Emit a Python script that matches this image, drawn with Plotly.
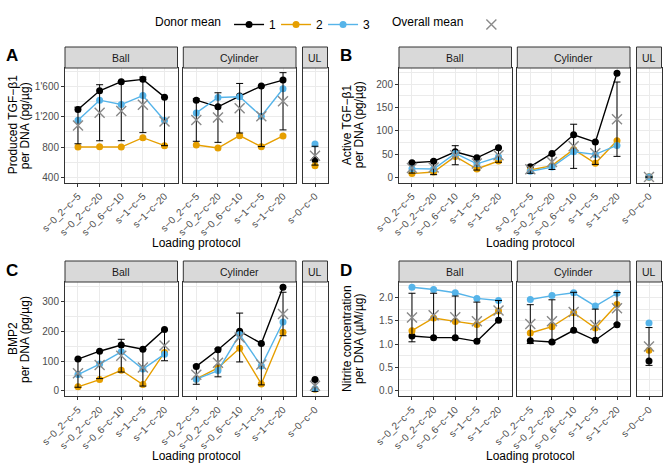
import plotly.graph_objects as go

# ---------------- data ----------------
protocols = ["s−0_2−c−5", "s−0_2−c−20", "s−0_6−c−10", "s−1−c−5", "s−1−c−20"]
ul_protocols = ["s−0−c−0"]
facets = ["Ball", "Cylinder", "UL"]
donors = ["1", "2", "3"]

# each list: Ball (5 protocols), Cylinder (5 protocols), UL (1)
# A: Produced TGF-beta1 per DNA (pg/ug)
a_donor1 = [1298, 1547, 1667, 1698, 1462, 1422, 1333, 1476, 1609, 1689, 631]
a_donor2 = [800, 804, 800, 924, 818, 827, 787, 951, 804, 947, 551]
a_donor3 = [1156, 1422, 1364, 1484, 1151, 1253, 1458, 1467, 1209, 1573, 840]
a_mean = [1086, 1255, 1277, 1360, 1140, 1158, 1191, 1315, 1207, 1407, 685]
a_err = [243, 372, 393, 369, 322, 282, 329, 329, 402, 380, 125]

# B: Active TGF-beta1 per DNA (pg/ug)
b_donor1 = [31.4, 34.3, 55, 42, 63.6, 22.9, 51.4, 91.4, 75.7, 224, 0.5]
b_donor2 = [7.9, 11.4, 45, 17.9, 35, 15.7, 25, 60, 30, 78.6, 0.5]
b_donor3 = [18.6, 17.9, 51.4, 29, 43.6, 12.9, 22, 55, 49.3, 68.6, 0.5]
b_mean = [20, 21.2, 47.5, 29.6, 47.4, 17.2, 32.8, 66.7, 51.7, 125, 0.5]
b_err = [11, 15.5, 20.5, 14, 15, 8.5, 16, 47.5, 24, 80, 0]

# C: BMP2 per DNA (pg/ug)
c_donor1 = [106.7, 133, 154, 140, 205.6, 82, 138, 200, 159, 348, 38]
c_donor2 = [13.3, 37.8, 69, 21, 129, 40, 77, 143, 23, 197, 5]
c_donor3 = [54.4, 90, 131, 73, 123, 39, 68, 189, 83, 231, 7]
c_mean = [59, 87, 118, 78, 152, 54, 94, 179, 88, 258, 17]
c_err = [47, 46, 55, 62, 51, 32, 47, 82, 68, 73, 19]

# D: Nitrite concentration per DNA (uM/ug)
d_donor1 = [1.174, 1.139, 1.139, 1.06, 1.509, 1.075, 1.046, 1.295, 1.082, 1.416, 0.64]
d_donor2 = [1.288, 1.56, 1.487, 1.42, 1.708, 1.238, 1.374, 1.673, 1.345, 1.85, 0.868]
d_donor3 = [2.22, 2.17, 2.10, 1.98, 1.936, 1.957, 2.04, 2.10, 1.815, 2.09, 1.452]
d_mean = [1.57, 1.62, 1.575, 1.49, 1.72, 1.43, 1.49, 1.69, 1.41, 1.77, 0.95]
d_err = [0.52, 0.47, 0.455, 0.41, 0.215, 0.415, 0.46, 0.42, 0.34, 0.335, 0.405]

# ---------------- styling / layout ----------------
W, H = 668, 470
FONT = "Liberation Sans, Arial, sans-serif"
donor_colors = ["#000000", "#E69F00", "#56B4E9"]
GRID = "#EBEBEB"
BORDER = "#333333"

panels = [
    dict(tag="A", t1="Produced TGF−β1", t2="per DNA (pg/µg)",
         donors=[a_donor1, a_donor2, a_donor3], mean=a_mean, err=a_err,
         yr=[329, 1849], dtick=400, fmt=","),
    dict(tag="B", t1="Active TGF−β1", t2="per DNA (pg/µg)",
         donors=[b_donor1, b_donor2, b_donor3], mean=b_mean, err=b_err,
         yr=[-11.2, 235.2], dtick=50, fmt="d"),
    dict(tag="C", t1="BMP2", t2="per DNA (pg/µg)",
         donors=[c_donor1, c_donor2, c_donor3], mean=c_mean, err=c_err,
         yr=[-17.4, 365.4], dtick=100, fmt="d"),
    dict(tag="D", t1="Nitrite concentration", t2="per DNA (µM/µg)",
         donors=[d_donor1, d_donor2, d_donor3], mean=d_mean, err=d_err,
         yr=[-0.111, 2.331], dtick=0.5, fmt=".1f"),
]

col_x0 = [0, 334]
row_plot = [(68, 182.5), (282, 396)]
facet_px = [(65, 177.5), (183.3, 296), (302.5, 327.5)]
slices = [slice(0, 5), slice(5, 10), slice(10, 11)]
cats = [protocols, protocols, ul_protocols]
STRIP_H = 21

fig = go.Figure()
layout = dict(
    width=W, height=H, margin=dict(l=0, r=0, t=0, b=0, autoexpand=False),
    plot_bgcolor="white", paper_bgcolor="white",
    font=dict(family=FONT, color="black"),
    separators=".'",
    shapes=[], annotations=[],
)

for p, pan in enumerate(panels):
    col, row = p % 2, p // 2
    yt, yb = row_plot[row]
    cx = col_x0[col]
    for f in range(3):
        k = p * 3 + f + 1
        xa = "x" if k == 1 else f"x{k}"
        ya = "y" if k == 1 else f"y{k}"
        xkey = "xaxis" if k == 1 else f"xaxis{k}"
        ykey = "yaxis" if k == 1 else f"yaxis{k}"
        fx0, fx1 = facet_px[f]
        x0, x1 = (cx + fx0) / W, (cx + fx1) / W
        y0, y1 = 1 - yb / H, 1 - yt / H
        n = len(cats[f])
        layout[xkey] = dict(
            domain=[x0, x1], anchor=ya, type="category",
            categoryorder="array", categoryarray=cats[f],
            range=[-0.6, n - 0.4],
            showgrid=True, gridcolor=GRID, gridwidth=1,
            showline=True, mirror=True, linecolor=BORDER, linewidth=1,
            ticks="outside", ticklen=3, tickcolor=BORDER, tickwidth=1,
            tickangle=-45, tickfont=dict(size=10, color="#4D4D4D"),
            zeroline=False, fixedrange=True, automargin=False,
        )
        ydict = dict(
            domain=[y0, y1], anchor=xa, range=pan["yr"],
            tickmode="linear", tick0=0, dtick=pan["dtick"], tickformat=pan["fmt"],
            showgrid=True, gridcolor=GRID, gridwidth=1,
            minor=dict(tickmode="linear", tick0=0, dtick=pan["dtick"] / 2,
                       showgrid=True, gridcolor=GRID, gridwidth=0.6, ticks=""),
            showline=True, mirror=True, linecolor=BORDER, linewidth=1,
            zeroline=False, fixedrange=True, automargin=False,
        )
        if f == 0:
            ydict.update(ticks="outside", ticklen=3, tickcolor=BORDER, tickwidth=1,
                         tickfont=dict(size=10, color="#4D4D4D"))
        else:
            ydict.update(ticks="", showticklabels=False)
        layout[ykey] = ydict

        # strip
        layout["shapes"].append(dict(
            type="rect", xref="paper", yref="paper", x0=x0, x1=x1,
            y0=y1, y1=1 - (yt - STRIP_H) / H,
            fillcolor="#D9D9D9", line=dict(color=BORDER, width=1), layer="above"))
        layout["annotations"].append(dict(
            text=facets[f], xref="paper", yref="paper",
            x=(x0 + x1) / 2, y=1 - (yt - STRIP_H / 2) / H,
            showarrow=False, xanchor="center", yanchor="middle",
            font=dict(size=10.5, color="#1A1A1A")))

        sl = slices[f]
        # donor lines
        for d in range(3):
            fig.add_trace(go.Scatter(
                x=cats[f], y=pan["donors"][d][sl], xaxis=xa, yaxis=ya,
                mode="lines+markers", name=donors[d],
                line=dict(color=donor_colors[d], width=1.4),
                marker=dict(color=donor_colors[d], size=7),
                legend="legend", showlegend=(k == 1), hoverinfo="skip"))
        # error bars (mean +/- spread)
        fig.add_trace(go.Scatter(
            x=cats[f], y=pan["mean"][sl], xaxis=xa, yaxis=ya, mode="markers",
            marker=dict(size=1, color="rgba(0,0,0,0)"),
            error_y=dict(type="data", array=pan["err"][sl], symmetric=True,
                         color="black", thickness=1, width=3.5),
            showlegend=False, hoverinfo="skip"))
        # overall mean
        fig.add_trace(go.Scatter(
            x=cats[f], y=pan["mean"][sl], xaxis=xa, yaxis=ya, mode="markers",
            name=" ", marker=dict(symbol="x-thin-open", size=10, color="#8A8A8A",
                                  line=dict(color="#8A8A8A", width=1.4)),
            legend="legend2", showlegend=(k == 1), hoverinfo="skip"))

    # panel letter
    layout["annotations"].append(dict(
        text="<b>" + pan["tag"] + "</b>", xref="paper", yref="paper",
        x=(cx + 12) / W, y=1 - (yt - 12) / H, showarrow=False,
        xanchor="center", yanchor="middle", font=dict(size=17, color="black")))
    # y titles (two lines)
    yc = 1 - ((yt + yb) / 2) / H
    for xi, txt in ((13, pan["t1"]), (25, pan["t2"])):
        layout["annotations"].append(dict(
            text=txt, xref="paper", yref="paper", x=(cx + xi) / W, y=yc,
            textangle=-90, showarrow=False, xanchor="center", yanchor="middle",
            font=dict(size=12, color="black")))
    # x title
    layout["annotations"].append(dict(
        text="Loading protocol", xref="paper", yref="paper",
        x=(cx + 196.5) / W, y=1 - (yb + 60) / H, showarrow=False,
        xanchor="center", yanchor="middle", font=dict(size=12, color="black")))

layout["legend"] = dict(
    orientation="h", x=153 / W, xanchor="left", y=1 - 10 / H, yanchor="top",
    title=dict(text="Donor mean", side="left", font=dict(size=12)),
    font=dict(size=12), itemwidth=30, entrywidth=2, entrywidthmode="pixels",
    bgcolor="rgba(0,0,0,0)")
layout["legend2"] = dict(
    orientation="h", x=390 / W, xanchor="left", y=1 - 10 / H, yanchor="top",
    title=dict(text="Overall mean", side="left", font=dict(size=12)),
    font=dict(size=12), itemwidth=30, bgcolor="rgba(0,0,0,0)")

fig.update_layout(**layout)
fig.write_html("out.html", config={"displayModeBar": False},
               post_script="document.body.style.margin='0';")
